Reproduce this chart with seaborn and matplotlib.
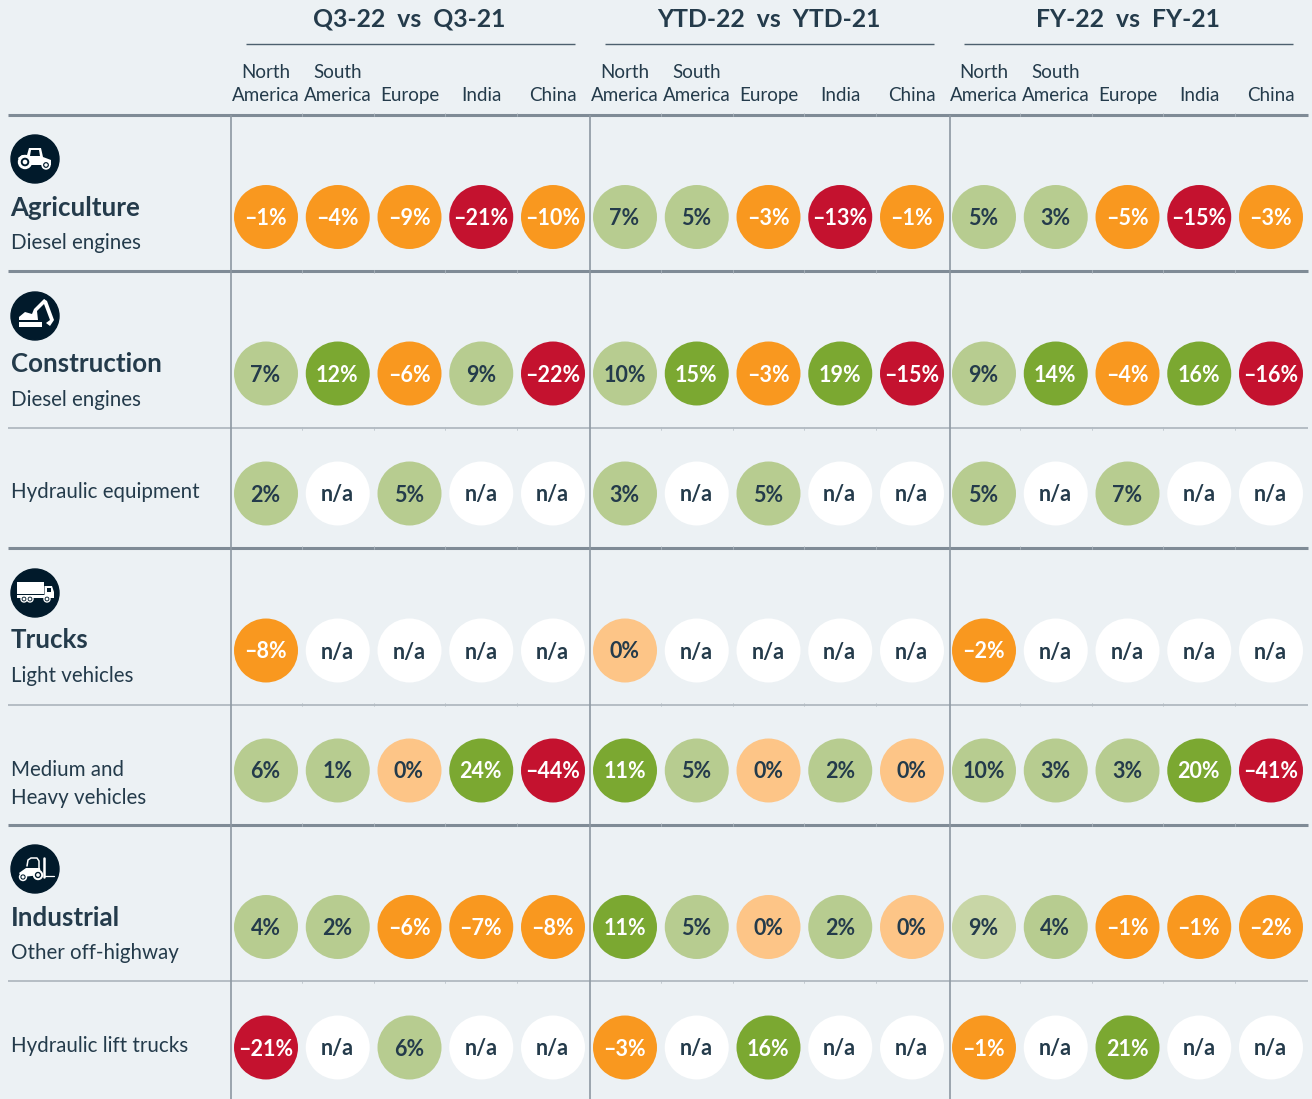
import pandas as pd
import seaborn as sns
import matplotlib.pyplot as plt
from matplotlib.patches import Circle, Polygon, Rectangle

# Data
periods = ['Q3-22  vs  Q3-21', 'YTD-22  vs  YTD-21', 'FY-22  vs  FY-21']
regions = ['North\nAmerica', 'South\nAmerica', 'Europe', 'India', 'China']
segments = ['Agriculture', 'Construction', 'Hydraulic equipment', 'Trucks',
            'Medium and\nHeavy vehicles', 'Industrial', 'Hydraulic lift trucks']

agriculture = [-1, -4, -9, -21, -10, 7, 5, -3, -13, -1, 5, 3, -5, -15, -3]
construction = [7, 12, -6, 9, -22, 10, 15, -3, 19, -15, 9, 14, -4, 16, -16]
hydraulic = [2, None, 5, None, None, 3, None, 5, None, None, 5, None, 7, None, None]
light_trucks = [-8, None, None, None, None, 0, None, None, None, None, -2, None, None, None, None]
heavy_trucks = [6, 1, 0, 24, -44, 11, 5, 0, 2, 0, 10, 3, 3, 20, -41]
industrial = [4, 2, -6, -7, -8, 11, 5, 0, 2, 0, 9, 4, -1, -1, -2]
lift_trucks = [-21, None, 6, None, None, -3, None, 16, None, None, -1, None, 21, None, None]
table = [agriculture, construction, hydraulic, light_trucks, heavy_trucks, industrial, lift_trucks]

# Layout, in pixels of the picture
row_y = [217, 373.5, 493.5, 650.5, 770.5, 927, 1047.5]
col_start = [266, 625, 984]
col_step = 71.75
BG = '#ecf1f4'
DARK = '#243b4b'
NAVY = '#011a2b'


def bucket(v):
    if v is None:
        return 'na'
    if v <= -11:
        return 'red'
    if v < 0:
        return 'orange'
    if v == 0:
        return 'pale'
    if v <= 10:
        return 'light'
    return 'green'


palette = {'na': '#ffffff', 'red': '#c4122f', 'orange': '#f9981f', 'pale': '#fdc587',
           'light': '#b7cc90', 'lighter': '#c8d6a6', 'green': '#7ba831'}

rows = []
for r, values in enumerate(table):
    for c, v in enumerate(values):
        rows.append({'x': col_start[c // 5] + (c % 5) * col_step, 'y': row_y[r], 'value': v,
                     'kind': bucket(v), 'label': 'n/a' if v is None else str(v).replace('-', '–') + '%'})
df = pd.DataFrame(rows)
# the 9% bubble under Industrial FY-22 is a paler green in the original
df.loc[5 * 15 + 10, 'kind'] = 'lighter'

sns.set_theme(style='white')
plt.rcParams['font.family'] = ['Lato', 'DejaVu Sans']

fig, ax = plt.subplots(figsize=(13.12, 10.99), dpi=100)
fig.patch.set_facecolor(BG)
ax.set_position([0, 0, 1, 1])
ax.set_facecolor(BG)
ax.set_xlim(0, 1312)
ax.set_ylim(1099, 0)
ax.axis('off')

# Grid lines
for y in [114.5, 271, 547.5, 824.5]:
    ax.plot([7.5, 1308], [y, y], color='#7f8b96', lw=2.2, zorder=1, solid_capstyle='butt')
for y in [428, 704.5, 981]:
    ax.plot([7.5, 1308], [y, y], color='#a6afb7', lw=1.1, zorder=1, solid_capstyle='butt')
for x in [230.5, 590, 949.5]:
    ax.plot([x, x], [115, 1099], color='#8d98a2', lw=1.2, zorder=1, solid_capstyle='butt')
for x0, x1 in [(245.5, 574.5), (604.5, 933.5), (963.5, 1292.5)]:
    ax.plot([x0, x1], [43.5, 43.5], color='#4d606e', lw=1.0, zorder=1, solid_capstyle='butt')

# Small cell joints on the rules
for start in col_start:
    for j in range(1, 5):
        x = start + (j - 0.5) * col_step
        for y in [114.5, 271, 547.5, 824.5, 428, 704.5, 981]:
            ax.plot([x, x], [y - 1.5, y + 1.5], color='#b4bdc4', lw=0.5, zorder=1)

# Bubbles
sns.scatterplot(data=df, x='x', y='y', hue='kind', palette=palette, s=2123, linewidth=0,
                legend=False, ax=ax, zorder=2, clip_on=False)
ax.set_xlabel('')
ax.set_ylabel('')

for _, row in df.iterrows():
    color = '#ffffff' if row['kind'] in ('red', 'orange', 'green') else DARK
    ax.text(row['x'] - 0.5, row['y'] + 1.5, row['label'], color=color, fontsize=15.5, fontweight='bold',
            ha='center', va='center', zorder=3)

# Headers
for i, p in enumerate(periods):
    ax.text(col_start[i] + 2 * col_step, 19.5, p, color=DARK, fontsize=17.8, fontweight='bold',
            ha='center', va='center')
    for j, reg in enumerate(regions):
        ax.text(col_start[i] + j * col_step, 104, reg, color=DARK, fontsize=13.5, ha='center', va='bottom',
                linespacing=1.45)

# Row labels
for y, t in [(207.5, 'Agriculture'), (363.5, 'Construction'), (640.5, 'Trucks'), (917.5, 'Industrial')]:
    ax.text(10.5, y, t, color=DARK, fontsize=18.6, fontweight='bold', ha='left', va='center')
for y, t in [(243, 'Diesel engines'), (400, 'Diesel engines'), (492.5, segments[2]), (676, 'Light vehicles'),
             (784, segments[4]), (953, 'Other off-highway'), (1046, segments[6])]:
    ax.text(11, y, t, color=DARK, fontsize=14.8, ha='left', va='center', linespacing=1.45)


# Icons
def badge(cy):
    ax.add_patch(Circle((35, cy), 24, color=NAVY, zorder=2))


def wheel(x, y, r):
    ax.add_patch(Circle((x, y), r, color='white', zorder=3))
    ax.add_patch(Circle((x, y), r * 0.55, color=NAVY, zorder=4))
    ax.add_patch(Circle((x, y), r * 0.25, color='white', zorder=5))


def shape(points):
    ax.add_patch(Polygon(points, closed=True, color='white', zorder=3, lw=0))


badge(159)
shape([(18, 158), (22, 155), (27, 155), (29, 148), (41, 148), (43, 157), (51, 160), (51, 165), (22, 165)])
ax.add_patch(Polygon([(31, 150), (39, 150), (40, 156), (30, 156)], closed=True, color=NAVY, zorder=4, lw=0))
wheel(25, 162, 6.5)
wheel(46, 165, 4)

badge(316)
shape([(19, 317), (25, 312), (32, 314), (34, 309), (44, 299), (46, 302), (37, 311), (38, 320), (19, 320)])
shape([(44, 299), (47, 301), (54, 320), (50, 326), (46, 323), (50, 320), (44, 304)])
ax.add_patch(Rectangle((19, 322), 23, 5, color='white', zorder=3, lw=0))

badge(593)
ax.add_patch(Rectangle((17, 582), 27, 12, color='white', zorder=3, lw=0))
shape([(44.5, 586), (52, 586), (54, 592), (54, 598), (17, 598), (17, 595), (44.5, 595)])
ax.add_patch(Rectangle((47, 588), 4, 3.5, color=NAVY, zorder=4, lw=0))
wheel(24, 599, 3)
wheel(30, 599, 3)
wheel(47, 599, 3)

badge(869)
ax.plot([27, 28, 31, 37, 39, 39], [866, 860, 858, 858, 861, 868], color='white', lw=1.1, zorder=3)
shape([(19, 873), (26, 868), (40, 868), (41, 875), (22, 877)])
ax.plot([44, 44], [858, 877], color='white', lw=1.8, zorder=3)
ax.plot([44, 54], [876, 876], color='white', lw=0.9, zorder=3)
wheel(23, 877, 3.5)
wheel(38, 875, 4.5)

fig.savefig('out.png', dpi=100, facecolor=BG)
